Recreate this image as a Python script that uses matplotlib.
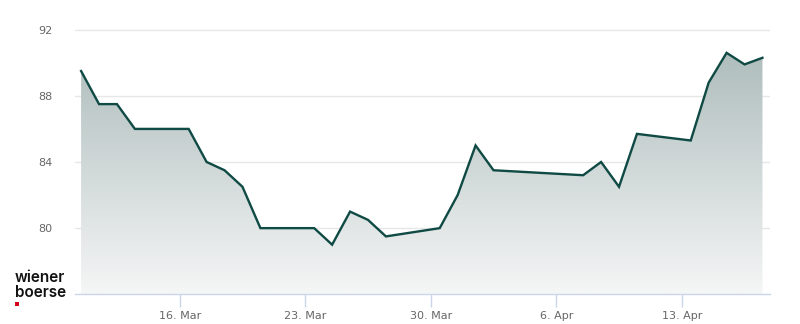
import matplotlib
matplotlib.use("Agg")
import matplotlib.pyplot as plt
import matplotlib.dates as mdates
from matplotlib.patches import Rectangle, Polygon
from matplotlib.colors import LinearSegmentedColormap
import numpy as np
import datetime as dt

dates = ["2026-03-10", "2026-03-11", "2026-03-12", "2026-03-13", "2026-03-16",
         "2026-03-17", "2026-03-18", "2026-03-19", "2026-03-20", "2026-03-23",
         "2026-03-24", "2026-03-25", "2026-03-26", "2026-03-27", "2026-03-30",
         "2026-03-31", "2026-04-01", "2026-04-02", "2026-04-07", "2026-04-08",
         "2026-04-09", "2026-04-10", "2026-04-13", "2026-04-14", "2026-04-15",
         "2026-04-16", "2026-04-17"]
prices = [89.5, 87.5, 87.5, 86.0, 86.0,
          84.0, 83.5, 82.5, 80.0, 80.0,
          79.0, 81.0, 80.5, 79.5, 80.0,
          82.0, 85.0, 83.5, 83.2, 84.0,
          82.5, 85.7, 85.3, 88.8, 90.6,
          89.9, 90.3]
y_ticks = [80, 84, 88, 92]
x_ticks = ["2026-03-16", "2026-03-23", "2026-03-30", "2026-04-06", "2026-04-13"]
x_tick_labels = ["16. Mar", "23. Mar", "30. Mar", "6. Apr", "13. Apr"]

x = np.array([mdates.date2num(dt.datetime.fromisoformat(d) + dt.timedelta(hours=12)) for d in dates])
y = np.array(prices)
base = mdates.date2num(dt.datetime(2026, 3, 16))
xt = [mdates.date2num(dt.datetime.fromisoformat(d)) for d in x_ticks]

fig = plt.figure(figsize=(8, 3.24), dpi=100)
ax = fig.add_axes([75/800, (324-294.3)/324, 695/800, 284.3/324])
ymin, ymax = 76, 93.19
ax.set_xlim(base - 5.84, base + 32.92)
ax.set_ylim(ymin, ymax)

# gradient fill
cmap = LinearSegmentedColormap.from_list("g", ["#f5f6f6", "#a2b3b2"])
grad = np.linspace(0, 1, 256).reshape(-1, 1)
im = ax.imshow(grad, cmap=cmap, aspect="auto", origin="lower",
               extent=[x[0], x[-1], ymin, ymax], zorder=1)
poly = Polygon(np.column_stack([np.r_[x[0], x, x[-1]], np.r_[ymin, y, ymin]]),
               closed=True, facecolor="none", edgecolor="none")
ax.add_patch(poly)
im.set_clip_path(poly)

ax.plot(x, y, color="#0f4a44", lw=1.7, zorder=3, solid_joinstyle="miter")

for v in y_ticks:
    ax.axhline(v, color="#e6e6e6", lw=1, zorder=0.5)

ax.set_yticks(y_ticks)
ax.set_yticklabels([str(v) for v in y_ticks])
ax.set_xticks(xt)
ax.set_xticklabels(x_tick_labels)
ax.tick_params(axis="y", length=0, pad=16, labelsize=8, labelcolor="#666666")
ax.tick_params(axis="x", length=9, width=1, color="#ccd6eb", pad=3, labelsize=8, labelcolor="#666666")
for s in ["top", "right", "left"]:
    ax.spines[s].set_visible(False)
ax.spines["bottom"].set_color("#ccd6eb")
ax.spines["bottom"].set_linewidth(1)
ax.spines["bottom"].set_zorder(4)

# logo
logo_font = dict(fontsize=11, color="#111111", va="baseline", ha="left",
                 family=["Inter", "DejaVu Sans"], weight="semibold")
fig.text(15/800, 1 - 282/324, "wiener", **logo_font)
fig.text(15/800, 1 - 297/324, "boerse", **logo_font)
fig.patches.append(Rectangle((15/800, 1 - 305.5/324), 4/800, 4/324, transform=fig.transFigure,
                             facecolor="#d0021b", edgecolor="none"))

fig.savefig("out.png", dpi=100)
